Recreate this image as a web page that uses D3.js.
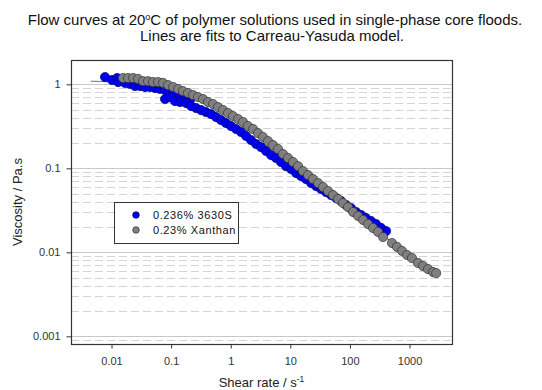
<!DOCTYPE html>
<html>
<head>
<meta charset="utf-8">
<script src="https://d3js.org/d3.v7.min.js"></script>
<style>
    body { margin: 0; background: #fff; }
    text { font-family: Arial, "Liberation Sans", sans-serif; }
</style>
</head>
<body>
<script>
// 0.236% 3630S (blue) - shear rate (1/s) and viscosity (Pa.s)
var blueShear = [0.00778, 0.0102, 0.0124, 0.0129, 0.0169, 0.0204, 0.0248, 0.0301, 0.0365, 0.0443, 0.0537, 0.0652, 0.0791,
    0.0959, 0.116, 0.141, 0.171, 0.207,
    0.0791, 0.0959, 0.116, 0.141, 0.178, 0.216, 0.262, 0.318, 0.385, 0.467, 0.567, 0.687, 0.834, 1.01, 1.23, 1.49, 1.81,
    2.19, 2.66, 3.22, 3.91, 4.74, 5.75, 6.98, 8.47, 10.3, 12.5, 15.1, 18.3, 22.3, 27.0, 32.7, 39.7, 48.2, 58.5, 71.0,
    86.1, 104, 127, 154, 186, 226, 274, 333, 404];
var blueVisc = [1.22, 1.125, 1.19, 1.065, 1.04, 1.01, 0.955, 0.955, 0.929, 0.929, 0.904, 0.880, 0.856,
    0.810, 0.767, 0.726, 0.687, 0.650,
    0.668, 0.706, 0.633, 0.616, 0.599, 0.552, 0.522, 0.494, 0.468, 0.443, 0.408, 0.376, 0.346, 0.319, 0.294, 0.271, 0.243,
    0.217, 0.195, 0.179, 0.161, 0.144, 0.133, 0.119, 0.106, 0.0981, 0.0879, 0.0810, 0.0746, 0.0668, 0.0615, 0.0567,
    0.0522, 0.0481, 0.0443, 0.0408, 0.0366, 0.0337, 0.0302, 0.0278, 0.0256, 0.0236, 0.0217, 0.0195, 0.0179];

// 0.23% Xanthan (grey)
var greyShear = [0.0156, 0.0189, 0.0230, 0.0279, 0.0338, 0.0410, 0.0497, 0.0603, 0.0731, 0.0887, 0.108, 0.131, 0.158,
    0.192, 0.233, 0.283, 0.343, 0.416, 0.505, 0.612, 0.743, 0.901, 1.09, 1.33, 1.61, 1.95, 2.37, 2.87, 3.48, 4.23, 5.13,
    6.22, 7.54, 9.15, 11.1, 13.5, 16.3, 19.8, 24.0, 29.2, 35.4, 43.0, 52.1, 63.2, 76.6, 92.9, 113, 137, 166, 201, 244,
    296, 360, 508, 617, 748, 908, 1100, 1390, 1690, 2040, 2480, 2800];
var greyVisc = [1.19, 1.19, 1.19, 1.16, 1.09, 1.09, 1.065, 1.065, 1.04, 0.98, 0.93, 0.88, 0.83, 0.79, 0.746, 0.706,
    0.668, 0.616, 0.583, 0.536, 0.494, 0.455, 0.419, 0.386, 0.356, 0.319, 0.294, 0.263, 0.236, 0.211, 0.189, 0.170,
    0.148, 0.133, 0.119, 0.106, 0.0929, 0.0832, 0.0746, 0.0668, 0.0599, 0.0537, 0.0481, 0.0431, 0.0386, 0.0346,
    0.0302, 0.0271, 0.0243, 0.0217, 0.0195, 0.0175, 0.0152, 0.0129, 0.0116, 0.0104, 0.00929, 0.00855, 0.00746,
    0.00687, 0.00632, 0.00582, 0.00566];

// Carreau-Yasuda fit lines
var blueFitShear = [0.0045, 0.01, 0.03, 0.1, 0.3, 1, 3, 10, 30, 100, 400];
var blueFitVisc = [1.09, 1.07, 0.97, 0.78, 0.52, 0.32, 0.18, 0.098, 0.057, 0.034, 0.018];
var greyFitShear = [0.015, 0.05, 0.1, 0.3, 1, 3, 10, 30, 100, 300, 1000, 2800];
var greyFitVisc = [1.19, 1.07, 0.95, 0.70, 0.44, 0.24, 0.12, 0.066, 0.035, 0.018, 0.0090, 0.0056];

var xTicks = [0.01, 0.1, 1, 10, 100, 1000];
var yTicks = [0.001, 0.01, 0.1, 1];
var xTickLabels = ["0.01", "0.1", "1", "10", "100", "1000"];
var yTickLabels = ["0.001", "0.01", "0.1", "1"];
var seriesNames = ["0.236% 3630S", "0.23% Xanthan"];

var width = 542, height = 390;
var plot = { left: 71, right: 452, top: 60, bottom: 344 };

var svg = d3.select("body").append("svg")
    .attr("width", width)
    .attr("height", height);

var x = d3.scaleLog().domain([0.00209, 5160]).range([plot.left, plot.right]);
var y = d3.scaleLog().domain([0.00081, 1.95]).range([plot.bottom, plot.top]);

// grid lines: solid at decades, dashed at 2..9
var minor = [];
[0.0001, 0.001, 0.01, 0.1, 1].forEach(function (d) {
    for (var k = 2; k <= 9; k++) {
        var v = d * k;
        if (v > y.domain()[0] && v < y.domain()[1]) minor.push(v);
    }
});
svg.append("g").selectAll("line").data(minor).enter().append("line")
    .attr("x1", plot.left).attr("x2", plot.right)
    .attr("y1", (d) => Math.round(y(d)) + 0.5).attr("y2", (d) => Math.round(y(d)) + 0.5)
    .style("stroke", "#d4d4d4")
    .style("stroke-dasharray", "8,4");
svg.append("g").selectAll("line").data(yTicks).enter().append("line")
    .attr("x1", plot.left).attr("x2", plot.right)
    .attr("y1", (d) => Math.round(y(d)) + 0.5).attr("y2", (d) => Math.round(y(d)) + 0.5)
    .style("stroke", "#c8c8c8");

// fit lines
var line = d3.line().x((d) => x(d[0])).y((d) => y(d[1])).curve(d3.curveMonotoneX);
svg.append("path")
    .attr("d", line(d3.zip(blueFitShear, blueFitVisc)))
    .style("fill", "none").style("stroke", "#6060ff").style("stroke-width", 1);
svg.append("path")
    .attr("d", line(d3.zip(greyFitShear, greyFitVisc)))
    .style("fill", "none").style("stroke", "#333").style("stroke-width", 1);

// points
svg.append("g").selectAll("circle")
    .data(d3.zip(blueShear, blueVisc))
    .enter().append("circle")
    .attr("cx", (d) => x(d[0])).attr("cy", (d) => y(d[1]))
    .attr("r", 4.6)
    .style("fill", "#0000f0")
    .style("stroke", "#000070")
    .style("stroke-width", 0.7);
svg.append("g").selectAll("circle")
    .data(d3.zip(greyShear, greyVisc))
    .enter().append("circle")
    .attr("cx", (d) => x(d[0])).attr("cy", (d) => y(d[1]))
    .attr("r", 4.6)
    .style("fill", "#7f7f7f")
    .style("stroke", "#333")
    .style("stroke-width", 0.7);

// frame
svg.append("rect")
    .attr("x", plot.left + 0.5).attr("y", plot.top + 0.5)
    .attr("width", plot.right - plot.left).attr("height", plot.bottom - plot.top)
    .style("fill", "none").style("stroke", "#333").style("stroke-width", 1.2);

// axes
var xAxis = d3.axisBottom(x).tickValues(xTicks).tickSize(4).tickPadding(9)
    .tickFormat((d, i) => xTickLabels[i]);
var gx = svg.append("g").attr("transform", "translate(0," + (plot.bottom + 0.5) + ")").call(xAxis);
gx.select(".domain").remove();
gx.selectAll("line").style("stroke", "#333");
gx.selectAll("text").style("font-size", "11px").style("fill", "#333");

var yAxis = d3.axisLeft(y).tickValues(yTicks).tickSize(5).tickPadding(6)
    .tickFormat((d, i) => yTickLabels[i]);
var gy = svg.append("g").attr("transform", "translate(" + (plot.left + 0.5) + ",0)").call(yAxis);
gy.select(".domain").remove();
gy.selectAll("line").style("stroke", "#333");
gy.selectAll("text").style("font-size", "11px").style("fill", "#333");

// titles
var t1 = svg.append("text").attr("x", 275).attr("y", 25).attr("text-anchor", "middle")
    .style("font-size", "15px").style("fill", "#111");
t1.append("tspan").text("Flow curves at 20");
t1.append("tspan").attr("dy", -5).style("font-size", "9px").text("o");
t1.append("tspan").attr("dy", 5).text("C of polymer solutions used in single-phase core floods.");
svg.append("text").attr("x", 272).attr("y", 41).attr("text-anchor", "middle")
    .style("font-size", "15px").style("fill", "#111")
    .text("Lines are fits to Carreau-Yasuda model.");

var xl = svg.append("text").attr("x", (plot.left + plot.right) / 2).attr("y", 387)
    .attr("text-anchor", "middle").style("font-size", "13px").style("fill", "#222");
xl.append("tspan").text("Shear rate / s");
xl.append("tspan").attr("dy", -5).style("font-size", "8.5px").text("-1");

svg.append("text")
    .attr("transform", "translate(22," + (plot.top + plot.bottom) / 2 + ") rotate(-90)")
    .attr("text-anchor", "middle").style("font-size", "13px").style("fill", "#222")
    .text("Viscosity / Pa.s");

// legend
var legend = svg.append("g");
legend.append("rect")
    .attr("x", 114.5).attr("y", 202.5).attr("width", 124).attr("height", 41)
    .style("fill", "#fff").style("stroke", "#333");
var legendFill = ["#0000f0", "#7f7f7f"];
var legendStroke = ["#000070", "#333"];
seriesNames.forEach(function (name, i) {
    legend.append("circle")
        .attr("cx", 136).attr("cy", 215 + i * 15).attr("r", 3.3)
        .style("fill", legendFill[i]).style("stroke", legendStroke[i]).style("stroke-width", 0.7);
    legend.append("text")
        .attr("x", 153).attr("y", 219 + i * 15)
        .style("font-size", "11px").style("letter-spacing", "0.6px").style("fill", "#111")
        .text(name);
});
</script>
</body>
</html>
